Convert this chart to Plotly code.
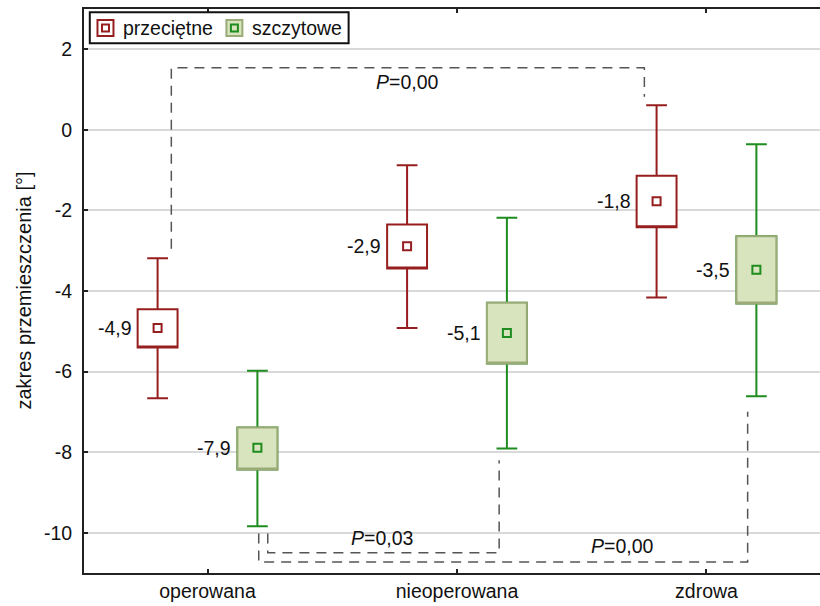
import plotly.graph_objects as go

# ---------------- data ----------------
categories = ["operowana", "nieoperowana", "zdrowa"]
cat_pos = [0, 1, 2]

# "przeciętne" (average) series
avg_mean = [-4.92, -2.89, -1.77]
avg_box_low = [-5.40, -3.44, -2.42]
avg_box_high = [-4.45, -2.35, -1.14]
avg_whisk_low = [-6.66, -4.92, -4.16]
avg_whisk_high = [-3.19, -0.88, 0.61]
avg_labels = ["-4,9", "-2,9", "-1,8"]

# "szczytowe" (peak) series
peak_mean = [-7.89, -5.04, -3.47]
peak_box_low = [-8.43, -5.80, -4.31]
peak_box_high = [-7.39, -4.29, -2.64]
peak_whisk_low = [-9.84, -7.91, -6.61]
peak_whisk_high = [-5.98, -2.18, -0.36]
peak_labels = ["-7,9", "-5,1", "-3,5"]

y_ticks = [2, 0, -2, -4, -6, -8, -10]
y_tick_text = ["2", "0", "-2", "-4", "-6", "-8", "-10"]

# significance brackets (x in category units, y in degrees)
bracket_top_x = [-0.145, -0.145, 1.751, 1.751]
bracket_top_y = [-2.95, 1.54, 1.54, 0.82]
bracket_top_label = "<i>P</i>=0,00"
bracket_mid_x = [0.2415, 0.2415, 1.169, 1.169]
bracket_mid_y = [-10.02, -10.50, -10.50, -8.20]
bracket_mid_label = "<i>P</i>=0,03"
bracket_low_x = [0.2054, 0.2054, 2.165, 2.165]
bracket_low_y = [-10.02, -10.73, -10.73, -7.0]
bracket_low_label = "<i>P</i>=0,00"
label_pos_x = [0.80, 0.701, 1.664]
label_pos_y = [1.185, -10.13, -10.33]

# ---------------- style ----------------
RED = "#961E1E"
GREEN = "#1E8C1E"
GREEN_FILL = "#D7E4BD"
GREEN_EDGE = "#9AAB78"
DASH = "#555555"
FONT = "Liberation Sans, Arial, sans-serif"
OFF = 0.2
BOXW = 0.16

avg_x = [c - OFF for c in cat_pos]
peak_x = [c + OFF for c in cat_pos]

fig = go.Figure()

# average: whiskers then box overlay
fig.add_trace(go.Box(
    x=avg_x, q1=avg_box_low, median=avg_box_low, q3=avg_box_high,
    lowerfence=avg_whisk_low, upperfence=avg_whisk_high,
    width=BOXW, whiskerwidth=0.52, boxpoints=False,
    line=dict(color=RED, width=2), fillcolor="white",
    showlegend=False, hoverinfo="skip"))

# peak: whiskers (green) then box (olive edge)
fig.add_trace(go.Box(
    x=peak_x, q1=peak_box_low, median=peak_box_low, q3=peak_box_high,
    lowerfence=peak_whisk_low, upperfence=peak_whisk_high,
    width=BOXW, whiskerwidth=0.52, boxpoints=False,
    line=dict(color=GREEN, width=2), fillcolor=GREEN_FILL,
    showlegend=False, hoverinfo="skip"))
fig.add_trace(go.Box(
    x=peak_x, q1=peak_box_low, median=peak_box_low, q3=peak_box_high,
    lowerfence=peak_box_low, upperfence=peak_box_high,
    width=BOXW, whiskerwidth=0, boxpoints=False,
    line=dict(color=GREEN_EDGE, width=2), fillcolor=GREEN_FILL,
    showlegend=False, hoverinfo="skip"))

# mean markers
fig.add_trace(go.Scatter(
    x=avg_x, y=avg_mean, mode="markers",
    marker=dict(symbol="square-open", size=8, color=RED, line=dict(width=2, color=RED)),
    showlegend=False, hoverinfo="skip"))
fig.add_trace(go.Scatter(
    x=peak_x, y=peak_mean, mode="markers",
    marker=dict(symbol="square-open", size=8, color=GREEN, line=dict(width=2, color=GREEN)),
    showlegend=False, hoverinfo="skip"))

# brackets
for bx, by in [(bracket_top_x, bracket_top_y), (bracket_mid_x, bracket_mid_y),
               (bracket_low_x, bracket_low_y)]:
    fig.add_trace(go.Scatter(
        x=bx, y=by, mode="lines",
        line=dict(color=DASH, width=1.5, dash="10px,7px"),
        showlegend=False, hoverinfo="skip"))

annotations = []
for lbl, lx, ly in zip([bracket_top_label, bracket_mid_label, bracket_low_label],
                       label_pos_x, label_pos_y):
    annotations.append(dict(x=lx, y=ly, xref="x", yref="y", text=lbl, showarrow=False,
                            font=dict(family=FONT, size=19.5, color="#111111"),
                            xanchor="center", yanchor="middle"))

for xs, ms, ls in [(avg_x, avg_mean, avg_labels), (peak_x, peak_mean, peak_labels)]:
    for x, m, l in zip(xs, ms, ls):
        annotations.append(dict(x=x, y=m, xref="x", yref="y", text=l, showarrow=False,
                                xanchor="right", yanchor="middle", xshift=-24,
                                font=dict(family=FONT, size=19.5, color="#111111")))

# ---------------- layout geometry (pixels) ----------------
W, H = 820, 606
L, R, T, B = 83.5, 820, 9, 573


def px(p):
    return (p - L) / (R - L)


def py(p):
    return (B - p) / (B - T)


# y axis title
annotations.append(dict(x=px(23), y=0.5, xref="paper", yref="paper",
                        text="zakres przemieszczenia [°]", textangle=-90, showarrow=False,
                        xanchor="center", yanchor="middle",
                        font=dict(family=FONT, size=20, color="#111111")))

# manual legend
shapes = [
    dict(type="rect", xref="paper", yref="paper", x0=px(89.3), x1=px(348.3),
         y0=py(43.3), y1=py(12.3), line=dict(color="#111111", width=2), fillcolor="white"),
    dict(type="rect", xref="paper", yref="paper", x0=px(97), x1=px(113),
         y0=py(36), y1=py(20), line=dict(color=RED, width=2), fillcolor="white"),
    dict(type="rect", xref="paper", yref="paper", x0=px(101.5), x1=px(108.5),
         y0=py(31.5), y1=py(24.5), line=dict(color=RED, width=2), fillcolor="white"),
    dict(type="rect", xref="paper", yref="paper", x0=px(226), x1=px(242),
         y0=py(36), y1=py(20), line=dict(color=GREEN_EDGE, width=2), fillcolor=GREEN_FILL),
    dict(type="rect", xref="paper", yref="paper", x0=px(230.5), x1=px(237.5),
         y0=py(31.5), y1=py(24.5), line=dict(color=GREEN, width=2), fillcolor=GREEN_FILL),
]
for txt, xl in [("przeciętne", 120.5), ("szczytowe", 249.5)]:
    annotations.append(dict(x=px(xl), y=py(28), xref="paper", yref="paper", text=txt,
                            showarrow=False, xanchor="left", yanchor="middle",
                            font=dict(family=FONT, size=19.5, color="#111111")))

fig.update_layout(
    width=W, height=H,
    margin=dict(l=L, r=W - R, t=T, b=H - B, pad=0),
    paper_bgcolor="white", plot_bgcolor="white",
    boxmode="overlay",
    showlegend=False,
    font=dict(family=FONT, size=19.5, color="#111111"),
    annotations=annotations,
    shapes=shapes,
    xaxis=dict(range=[-0.495, 2.455], tickvals=cat_pos, ticktext=categories,
               showgrid=False, zeroline=False,
               showline=True, linecolor="#222222", linewidth=2, mirror="ticks",
               ticks="inside", ticklen=4, tickwidth=1.5, tickcolor="#222222",
               tickfont=dict(family=FONT, size=19.5, color="#111111")),
    yaxis=dict(range=[-11, 3], tickvals=y_ticks, ticktext=y_tick_text,
               showgrid=True, gridcolor="#D9D9D9", gridwidth=1.5, zeroline=False,
               showline=True, linecolor="#222222", linewidth=2,
               ticks="inside", ticklen=4, tickwidth=1.5, tickcolor="#222222",
               ticklabelstandoff=6,
               tickfont=dict(family=FONT, size=19.5, color="#111111")),
)

fig.write_html(
    "out.html",
    config={"displayModeBar": False},
    post_script="document.body.style.margin='0';document.body.style.overflow='hidden';",
)
